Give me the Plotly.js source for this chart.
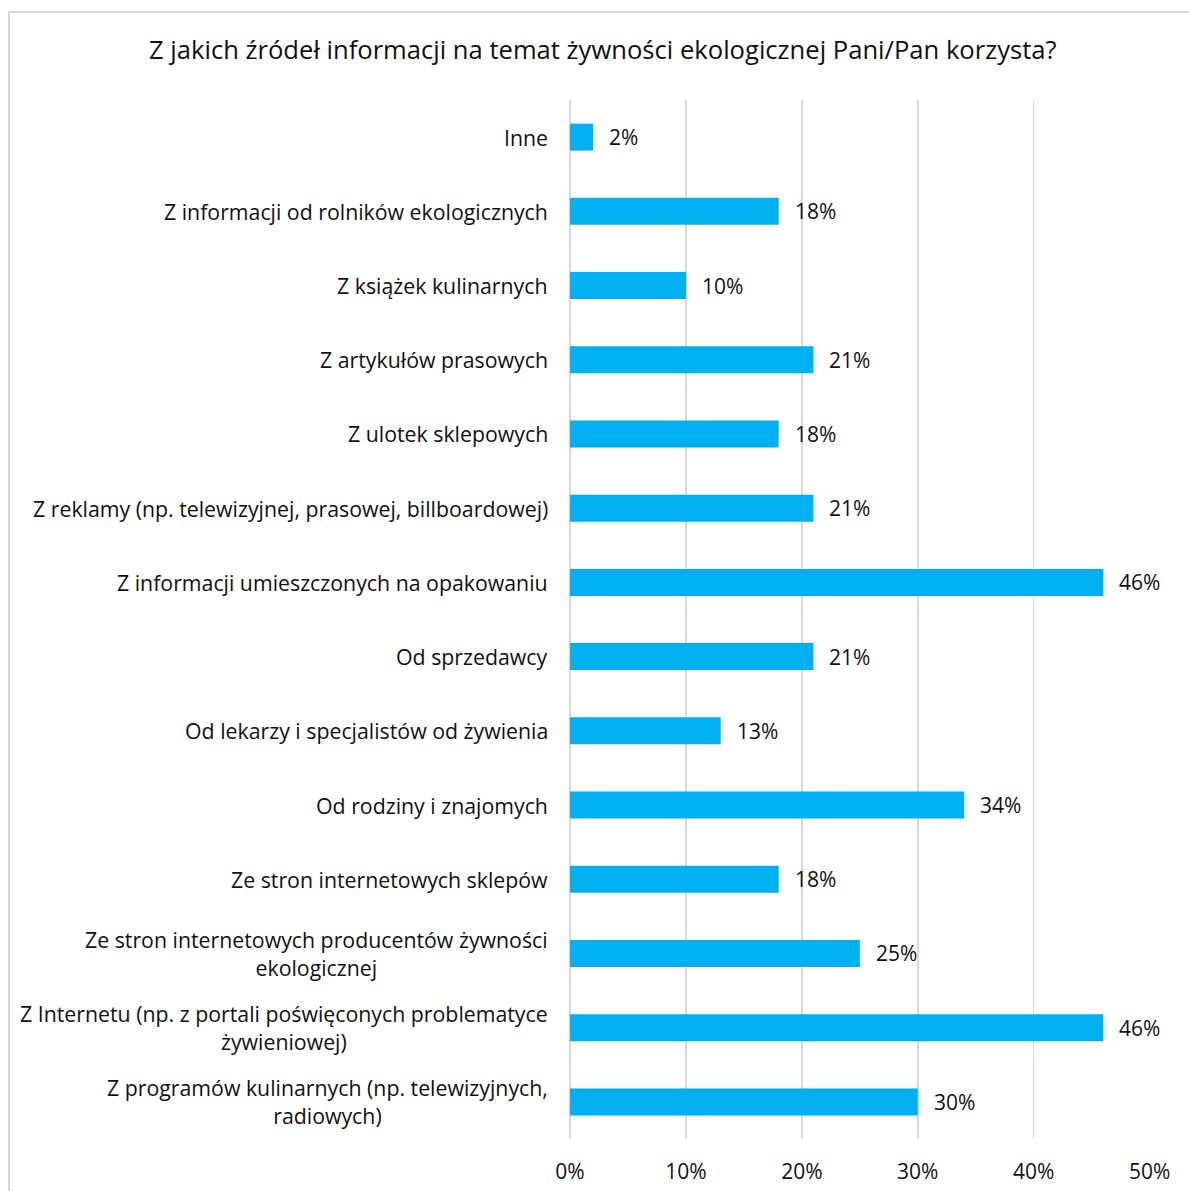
<!DOCTYPE html>
<html>
<head>
<meta charset="utf-8">
<script src="https://cdn.plot.ly/plotly-3.0.1.min.js"></script>
<style>
  html, body { margin: 0; padding: 0; background: #fff; }
  #chart { width: 1189px; height: 1191px; }
  #frame { position: absolute; left: 8px; top: 11px; width: 1200px; height: 1200px;
           border: 2px solid #d9d9d9; box-sizing: border-box; pointer-events: none; }
</style>
</head>
<body>
<div id="chart"></div>
<div id="frame"></div>
<script>
// Categories listed bottom-to-top (Plotly draws the first category at the bottom)
const categories = [
  "Z programów kulinarnych (np. telewizyjnych,<br>radiowych)",
  "Z Internetu (np. z portali poświęconych problematyce<br>żywieniowej)",
  "Ze stron internetowych producentów żywności<br>ekologicznej",
  "Ze stron internetowych sklepów",
  "Od rodziny i znajomych",
  "Od lekarzy i specjalistów od żywienia",
  "Od sprzedawcy",
  "Z informacji umieszczonych na opakowaniu",
  "Z reklamy (np. telewizyjnej, prasowej, billboardowej)",
  "Z ulotek sklepowych",
  "Z artykułów prasowych",
  "Z książek kulinarnych",
  "Z informacji od rolników ekologicznych",
  "Inne"
];
const shares = [0.30, 0.46, 0.25, 0.18, 0.34, 0.13, 0.21, 0.46, 0.21, 0.18, 0.21, 0.10, 0.18, 0.02];
const tickValues = [0, 0.1, 0.2, 0.3, 0.4, 0.5];
const tickLabels = ["0%", "10%", "20%", "30%", "40%", "50%"];

const FONT = "'Open Sans', Carlito, sans-serif";
const TEXT = "#111111";

const pct = v => Math.round(v * 100) + "%";

// Category labels (centered lines, right-aligned block) and value labels
const annotations = [];
categories.forEach((c, i) => {
  annotations.push({
    xref: "paper", yref: "y", x: 0, y: c, text: c,
    xanchor: "right", yanchor: "middle", align: "center", xshift: -20,
    showarrow: false, font: { family: FONT, size: 21.3, color: TEXT }
  });
  annotations.push({
    xref: "x", yref: "y", x: shares[i], y: c, text: pct(shares[i]),
    xanchor: "left", yanchor: "middle", xshift: 14,
    showarrow: false, font: { family: FONT, size: 21, color: TEXT }
  });
});

const trace = {
  type: "bar",
  orientation: "h",
  x: shares,
  y: categories,
  marker: { color: "#00b0f0" },
  hoverinfo: "skip"
};

const layout = {
  width: 1189,
  height: 1191,
  margin: { l: 570, r: 39, t: 100, b: 52 },
  paper_bgcolor: "#ffffff",
  plot_bgcolor: "#ffffff",
  showlegend: false,
  bargap: 0.636,
  title: {
    text: "Z jakich źródeł informacji na temat żywności ekologicznej Pani/Pan korzysta?",
    font: { family: FONT, size: 25.6, color: TEXT },
    xref: "container", x: 0.507, xanchor: "center",
    yref: "container", y: 0.958, yanchor: "middle"
  },
  xaxis: {
    range: [0, 0.5003],
    tickvals: tickValues,
    ticktext: tickLabels,
    showgrid: true,
    gridcolor: "#d9d9d9",
    gridwidth: 1.5,
    zeroline: true,
    zerolinecolor: "#d9d9d9",
    zerolinewidth: 1.5,
    showline: false,
    ticks: "",
    ticklabelstandoff: 18,
    tickfont: { family: FONT, size: 21, color: TEXT },
    fixedrange: true
  },
  yaxis: {
    type: "category",
    categoryorder: "array",
    categoryarray: categories,
    showticklabels: false,
    showgrid: false,
    zeroline: false,
    showline: false,
    ticks: "",
    fixedrange: true
  },
  annotations: annotations
};

Plotly.newPlot("chart", [trace], layout, { staticPlot: true, displayModeBar: false });
</script>
</body>
</html>
